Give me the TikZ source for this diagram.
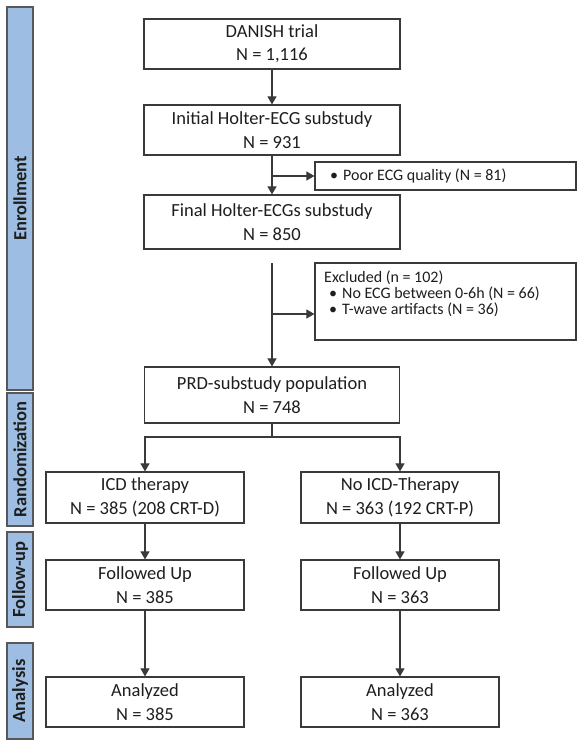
\documentclass[tikz,border=0pt]{standalone}
\usepackage{fontspec}
\setmainfont{Carlito}
\usetikzlibrary{arrows.meta}
\definecolor{linec}{HTML}{3A3A3A}
\definecolor{barfill}{HTML}{9DBDE2}
\definecolor{txt}{HTML}{1E1E1E}
\tikzset{
  box/.style={draw=linec, line width=1.2pt, fill=white, rectangle, align=center, inner sep=0pt,
    font=\fontsize{18.5}{23.5}\selectfont, text=txt},
  sbox/.style={draw=linec, line width=1.2pt, fill=white, rectangle, inner sep=0pt},
  stext/.style={font=\fontsize{16}{16}\selectfont, text=txt, align=left, inner sep=0pt},
  bar/.style={draw=linec!85, line width=1.2pt, fill=barfill, rectangle, rotate=90, inner sep=0pt,
    minimum height=26pt, font=\bfseries\fontsize{18.5}{20}\selectfont, text=txt},
  arr/.style={draw=linec, line width=1.1pt, -{Triangle[length=8pt,width=9pt]}},
  ln/.style={draw=linec, line width=1.1pt}
}
\begin{document}
\begin{tikzpicture}[x=1pt,y=-1pt]
\useasboundingbox (0,0) rectangle (588,746);
% phase bars
\node[bar, minimum width=383pt] (b1) at (20,198.5) {Enrollment};
\node[bar, minimum width=133pt] (b2) at (20,459.5) {Randomization};
\node[bar, minimum width=95pt] (b3) at (20,579.5) {Follow-up};
\node[bar, minimum width=96pt] (b4) at (20,691) {Analysis};
% main boxes
\node[box, minimum width=256pt, minimum height=50pt] (danish) at (272,44) {DANISH trial\\N = 1,116};
\node[box, minimum width=256pt, minimum height=50pt] (initial) at (272,130) {Initial Holter-ECG substudy\\N = 931};
\node[box, minimum width=256pt, minimum height=54pt] (final) at (272,222) {Final Holter-ECGs substudy\\N = 850};
\node[box, minimum width=255pt, minimum height=56pt] (prd) at (272,395) {PRD-substudy population\\N = 748};
\node[box, minimum width=198pt, minimum height=51pt] (icd) at (145,497.5) {ICD therapy\\N = 385 (208 CRT-D)};
\node[box, minimum width=198pt, minimum height=51pt] (noicd) at (400,497.5) {No ICD-Therapy\\N = 363 (192 CRT-P)};
\node[box, minimum width=198pt, minimum height=50pt] (fu1) at (145,585) {Followed Up\\N = 385};
\node[box, minimum width=198pt, minimum height=50pt] (fu2) at (400,585) {Followed Up\\N = 363};
\node[box, minimum width=198pt, minimum height=50pt] (an1) at (145,702) {Analyzed\\N = 385};
\node[box, minimum width=198pt, minimum height=50pt] (an2) at (400,702) {Analyzed\\N = 363};
% exclusion boxes
\node[sbox, minimum width=261pt, minimum height=28pt] (poor) at (445.5,176) {};
\node[stext, anchor=west] (poortext) at (325,176) {\makebox[18pt][l]{\hspace{5pt}\textbullet}Poor ECG quality (N = 81)};
\node[sbox, minimum width=261pt, minimum height=77pt] (excl) at (445.5,301.5) {};
\node[stext, anchor=north west] (excltext) at (324,271) {Excluded (n = 102)\\
\makebox[18pt][l]{\hspace{5pt}\textbullet}No ECG between 0-6h (N = 66)\\
\makebox[18pt][l]{\hspace{5pt}\textbullet}T-wave artifacts (N = 36)};
% connectors
\draw[arr] (danish.south) -- (initial.north);
\draw[arr] (initial.south) -- (final.north);
\coordinate (j1) at (272,176);
\draw[arr] (j1) -- (poor.west);
\coordinate (s2) at (272,263);
\draw[arr] (s2) -- (prd.north);
\coordinate (j2) at (272,314);
\draw[arr] (j2) -- (j2 -| excl.west);
\coordinate (sp) at (272,437);
\draw[ln] (prd.south) -- (sp);
\draw[arr] (sp) -| (icd.north);
\draw[arr] (sp) -| (noicd.north);
\draw[arr] (icd.south) -- (fu1.north);
\draw[arr] (noicd.south) -- (fu2.north);
\draw[arr] (fu1.south) -- (an1.north);
\draw[arr] (fu2.south) -- (an2.north);
\end{tikzpicture}
\end{document}
